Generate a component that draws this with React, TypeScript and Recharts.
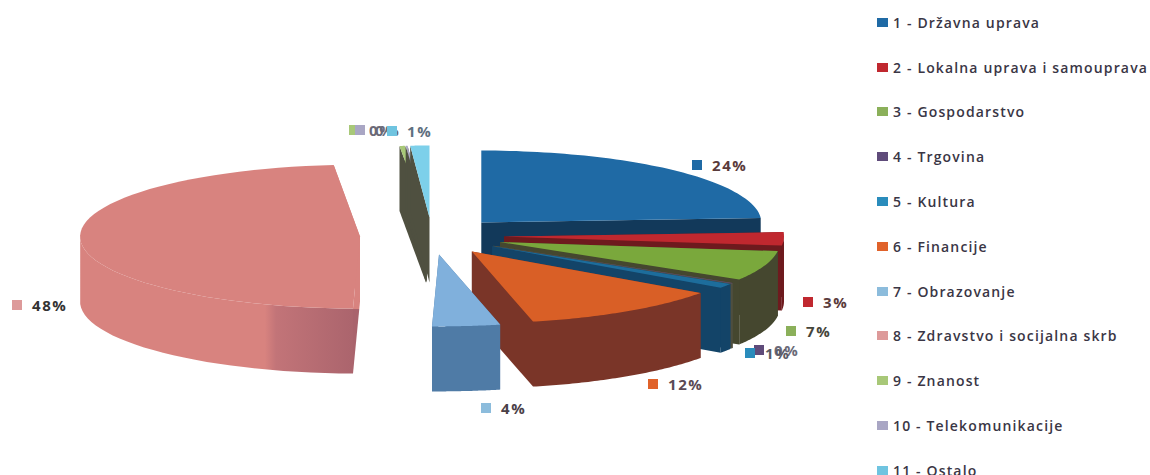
import React from "react";
import { PieChart, Pie, Legend } from "recharts";

const categories = [
  "1 - Državna uprava",
  "2 - Lokalna uprava i samouprava",
  "3 - Gospodarstvo",
  "4 - Trgovina",
  "5 - Kultura",
  "6 - Financije",
  "7 - Obrazovanje",
  "8 - Zdravstvo i socijalna skrb",
  "9 - Znanost",
  "10 - Telekomunikacije",
  "11 - Ostalo",
];
const shares = [24, 3, 6.7, 0.1, 1, 11.7, 3.9, 48.1, 0.3, 0.1, 1.1];

const topColors = ["#1f6aa5", "#c0282f", "#7aa83c", "#5f4b7a", "#1d6d9c", "#d95f26", "#80b0dc", "#d8837f", "#a8c878", "#a9a6c4", "#7dd0ea"];
const wallColors = ["#12395a", "#6e1a1e", "#45472f", "#4f4f40", "#134468", "#7a3528", "#4f7ba6", "#a9636c", "#4f5040", "#4f5040", "#4f5040"];
const legendColors = ["#1f6aa5", "#c0282f", "#8bb05a", "#5f4b7a", "#2a8cbc", "#e0622a", "#8cbcdc", "#dd9a9a", "#a8c878", "#a9a6c4", "#6fc4e0"];
const labelColors = ["#5a3b3b", "#5a3b3b", "#45453a", "#6a6a78", "#5a5a66", "#5a4a55", "#4a4048", "#333333", "#6a6a78", "#6a6a78", "#5f7080"];
const labelOffsets = [[260, -71], [371, 66], [354, 95], [322, 114], [313, 117], [216, 148], [49, 172], [-420, 69], [-83, -106], [-77, -106], [-45, -105]];

const rows = categories.map((name, i) => ({ name, value: shares[i], fill: topColors[i] }));

const SQUASH = 0.257;
const DEPTH = 65;
const EXPLODE = 72;
const RAD = Math.PI / 180;

function Slice3D(props: any) {
  const { cx, cy, outerRadius: r, startAngle, endAngle, index } = props;
  const mid = (startAngle + endAngle) / 2;
  const ax = cx + EXPLODE * Math.cos(mid * RAD);
  const ay = cy - EXPLODE * SQUASH * Math.sin(mid * RAD);
  const pt = (a: number, d = 0) => [ax + r * Math.cos(a * RAD), ay - r * SQUASH * Math.sin(a * RAD) + d];
  const p = (q: number[]) => `${q[0].toFixed(1)},${q[1].toFixed(1)}`;
  const hi = Math.max(startAngle, endAngle);
  const lo = Math.min(startAngle, endAngle);
  const steps = 60;
  const arc: number[][] = [];
  for (let s = 0; s <= steps; s++) arc.push(pt(hi - ((hi - lo) * s) / steps));
  const top = [[ax, ay], ...arc].map(p).join(" ");
  const side = (a: number) => [[ax, ay], pt(a), pt(a, DEPTH), [ax, ay + DEPTH]].map(p).join(" ");
  // Outer wall: the part of the rim on the lower half of the ellipse (sin < 0)
  const rim: number[] = [];
  for (let s = 0; s <= steps; s++) {
    const a = hi - ((hi - lo) * s) / steps;
    if (Math.sin(a * RAD) <= 0.0) rim.push(a);
  }
  const wall = rim.length > 1
    ? [...rim.map((a) => pt(a)), ...rim.slice().reverse().map((a) => pt(a, DEPTH))].map(p).join(" ")
    : null;
  const wallFill = wallColors[index];
  const gid = `wall-${index}`;
  const sid = `side-${index}`;
  const isLarge = hi - lo > 120;
  const frontY = pt(hi)[1];
  return (
    <g>
      {isLarge && (
        <defs>
          <linearGradient id={gid} gradientUnits="userSpaceOnUse" x1={ax - r} x2={ax} y1={0} y2={0}>
            <stop offset="0.66" stopColor={topColors[index]} />
            <stop offset="0.7" stopColor="#c27478" />
            <stop offset="1" stopColor={wallFill} />
          </linearGradient>
          <linearGradient id={sid} gradientUnits="userSpaceOnUse" x1={0} x2={0} y1={ay} y2={frontY + DEPTH}>
            <stop offset={(frontY - ay) / (frontY + DEPTH - ay)} stopColor={topColors[index]} />
            <stop offset={(frontY - ay) / (frontY + DEPTH - ay)} stopColor={wallFill} />
          </linearGradient>
        </defs>
      )}
      <polygon points={side(hi)} fill={isLarge ? `url(#${sid})` : wallFill} />
      <polygon points={side(lo)} fill={isLarge ? topColors[index] : wallFill} />
      {wall && <polygon points={wall} fill={isLarge ? `url(#${gid})` : wallFill} />}
      <polygon points={top} fill={topColors[index]} />
    </g>
  );
}

function SliceLabel(props: any) {
  const { cx, cy, index, value } = props;
  const [dx, dy] = labelOffsets[index];
  const x = cx + dx;
  const y = cy + dy;
  return (
    <g>
      <rect x={x} y={y - 5} width={10} height={10} fill={legendColors[index]} />
      <text
        x={x + 20}
        y={y + 5.5}
        fontFamily="'Open Sans', sans-serif"
        fontWeight={700}
        fontSize={15}
        letterSpacing={1.6}
        fill={labelColors[index]}
      >
        {Math.round(value)}%
      </text>
    </g>
  );
}

function LegendList() {
  return (
    <div>
      {categories.map((name, i) => (
        <div
          key={name}
          style={{ height: 44.8, display: "flex", alignItems: "center", whiteSpace: "nowrap" }}
        >
          <span style={{ width: 11, height: 9, background: legendColors[i], marginRight: 5, display: "inline-block" }} />
          <span style={{ fontFamily: "'Open Sans', sans-serif", fontSize: 14, fontWeight: 600, letterSpacing: 1.15, color: "#3a3645" }}>
            {name}
          </span>
        </div>
      ))}
    </div>
  );
}

export default function App() {
  return (
    <div style={{ position: "absolute", left: 0, top: 0, width: 1150, height: 475, background: "#fff", overflow: "hidden" }}>
      <PieChart width={1150} height={475} margin={{ top: 0, right: 0, bottom: 0, left: 0 }}>
        <Pie
          data={rows}
          dataKey="value"
          nameKey="name"
          cx={432}
          cy={236}
          outerRadius={280}
          innerRadius={0}
          startAngle={90}
          endAngle={-270}
          stroke="none"
          shape={Slice3D}
          label={SliceLabel}
          labelLine={false}
          isAnimationActive={false}
        />
        <Legend
          content={<LegendList />}
          layout="vertical"
          align="right"
          verticalAlign="top"
          wrapperStyle={{ position: "absolute", left: 877, top: 0, width: 273 }}
        />
      </PieChart>
    </div>
  );
}
